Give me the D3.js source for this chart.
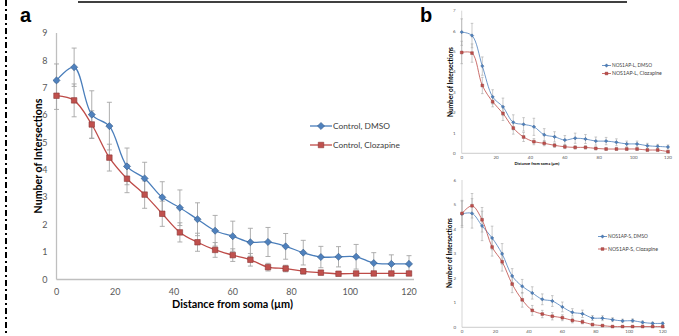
<!DOCTYPE html>
<html><head><meta charset="utf-8">
<script src="https://cdn.jsdelivr.net/npm/d3@7"></script>
<style>body{margin:0;background:#fff}svg{display:block}</style>
</head><body>
<svg id="c" width="679" height="336"></svg>
<script>
const distances = [0,6,12,18,24,30,36,42,48,54,60,66,72,78,84,90,96,102,108,114,120];
const xTicks = [0,20,40,60,80,100,120];

// Panel a
const seriesA = ["Control, DMSO","Control, Clozapine"];
const dmsoA = [7.27,7.75,6.02,5.6,4.13,3.69,3.0,2.62,2.2,1.78,1.58,1.36,1.37,1.21,0.98,0.82,0.83,0.83,0.6,0.57,0.57];
const dmsoAErr = [0.6,0.7,0.87,0.87,0.67,0.59,0.57,0.65,0.6,0.56,0.55,0.51,0.53,0.47,0.45,0.39,0.37,0.45,0.38,0.33,0.3];
const clozA = [6.71,6.54,5.66,4.45,3.68,3.1,2.4,1.72,1.36,1.08,0.89,0.72,0.45,0.4,0.3,0.25,0.21,0.22,0.22,0.22,0.22];
const clozAErr = [0.5,0.6,0.5,0.49,0.51,0.5,0.46,0.35,0.33,0.27,0.23,0.23,0.14,0.12,0.1,0.08,0.07,0.07,0.07,0.06,0.06];
const yTicksA = [0,1,2,3,4,5,6,7,8,9];

// Panel b top (NOS1AP-L)
const seriesL = ["NOS1AP-L, DMSO","NOS1AP-L, Clozapine"];
const dmsoL = [5.95,5.78,4.28,2.77,2.28,1.52,1.42,1.3,0.91,0.81,0.65,0.74,0.7,0.6,0.6,0.54,0.46,0.46,0.37,0.34,0.31];
const dmsoLErr = [0.65,0.6,0.45,0.35,0.43,0.37,0.33,0.42,0.3,0.25,0.22,0.25,0.22,0.2,0.18,0.17,0.14,0.14,0.12,0.1,0.1];
const clozL = [4.95,4.92,3.33,2.53,1.96,1.24,0.8,0.57,0.49,0.39,0.32,0.29,0.29,0.24,0.21,0.21,0.21,0.21,0.16,0.16,0.08];
const clozLErr = [0.55,0.45,0.4,0.25,0.35,0.3,0.22,0.15,0.12,0.1,0.09,0.08,0.08,0.07,0.06,0.06,0.06,0.06,0.05,0.05,0.04];
const yTicksL = [0,1,2,3,4,5,6,7];

// Panel b bottom (NOS1AP-S)
const seriesS = ["NOS1AP-S, DMSO","NOS1AP-S, Clozapine"];
const dmsoS = [4.62,4.64,4.13,3.64,2.99,2.09,1.67,1.4,1.14,1.07,0.83,0.61,0.55,0.38,0.37,0.31,0.26,0.27,0.2,0.16,0.16];
const dmsoSErr = [0.55,0.6,0.6,0.48,0.42,0.3,0.28,0.25,0.22,0.22,0.2,0.15,0.15,0.1,0.1,0.08,0.07,0.07,0.06,0.05,0.05];
const clozS = [4.64,4.95,4.38,3.27,2.67,1.76,1.12,0.69,0.54,0.45,0.39,0.28,0.22,0.11,0.07,0.03,0.03,0.03,0.03,0.03,0.03];
const clozSErr = [0.5,0.5,0.5,0.37,0.38,0.35,0.3,0.2,0.15,0.15,0.12,0.1,0.08,0.05,0.04,0.03,0.02,0.02,0.02,0.02,0.02];
const yTicksS = [0,1,2,3,4,5,6];

const BLUE = "#4F81BD", BLUE_L = "#4A7EBB", BLUE_B = "#385D8A", RED = "#C0504D", RED_L = "#BE4B48", RED_B = "#8C3836";
const ERR = "#A6A6A6", AX = "#BFBFBF", TXT = "#595959";
const FONT = "Lato, 'Open Sans', sans-serif";
const svg = d3.select("#c");

function fitText(sel, target) {
  const n = sel.node();
  const base = parseFloat(sel.attr("font-size"));
  const w = n.getComputedTextLength();
  if (w > 0) sel.attr("font-size", (base * target / w).toFixed(2));
  return sel;
}

function marker(sel, kind, side) {
  // diamond = square rotated 45 degrees (Excel style)
  const sym = d3.symbol().type(d3.symbolSquare).size(side * side);
  return sel.attr("d", sym).attr("data-rot", kind === "diamond" ? 45 : 0);
}

function panel(o) {
  const g = svg.append("g");
  const x = d3.scaleLinear().domain([0,120]).range(o.xr);
  const y = d3.scaleLinear().domain([0,o.ymax]).range(o.yr);
  g.append("line").attr("x1", x(0)).attr("x2", o.xEnd).attr("y1", y(0)).attr("y2", y(0)).attr("stroke", AX).attr("stroke-width", o.axW);
  g.append("line").attr("x1", x(0)).attr("x2", x(0)).attr("y1", y(0)).attr("y2", y(o.ymax)).attr("stroke", AX).attr("stroke-width", o.axW*0.8);
  g.selectAll(".yt").data(o.yTicks).join("text").attr("x", x(0) - o.tickPad).attr("y", d => y(d)).attr("dy", "0.35em")
    .attr("text-anchor", "end").attr("font-family", FONT).attr("font-size", o.tickSize).attr("fill", TXT).text(d => d);
  g.selectAll(".xt").data(xTicks).join("text").attr("x", d => x(d)).attr("y", y(0) + o.xTickDy)
    .attr("text-anchor", "middle").attr("font-family", FONT).attr("font-size", o.tickSize).attr("fill", TXT).text(d => d);
  const sets = [
    {v: o.d1, e: o.e1, c: BLUE, lc: BLUE_L, bc: BLUE_B, m: "diamond", s: o.sideD},
    {v: o.d2, e: o.e2, c: RED, lc: RED_L, bc: RED_B, m: "square", s: o.sideS}
  ];
  sets.forEach(s => {
    const pts = distances.map((d,i) => ({x: d, v: s.v[i], e: s.e[i]}));
    const eg = g.append("g").attr("stroke", ERR).attr("stroke-width", o.errW);
    eg.selectAll("line.v").data(pts).join("line").attr("x1", d => x(d.x)).attr("x2", d => x(d.x))
      .attr("y1", d => y(d.v - d.e)).attr("y2", d => y(d.v + d.e));
    [-1,1].forEach(sg => {
      eg.selectAll("line.c" + sg).data(pts).join("line").attr("x1", d => x(d.x) - o.cap).attr("x2", d => x(d.x) + o.cap)
        .attr("y1", d => y(d.v + sg*d.e)).attr("y2", d => y(d.v + sg*d.e));
    });
  });
  sets.forEach(s => {
    const line = d3.line().x((d,i) => x(distances[i])).y(d => y(d)).curve(d3.curveCatmullRom.alpha(0.5));
    g.append("path").attr("d", line(s.v)).attr("fill", "none").attr("stroke", s.lc).attr("stroke-width", o.lineW);
  });
  sets.forEach(s => {
    const rot = s.m === "diamond" ? 45 : 0;
    const sym = d3.symbol().type(d3.symbolSquare).size(s.s * s.s);
    g.selectAll(null).data(s.v).join("path").attr("transform", (d,i) => `translate(${x(distances[i])},${y(d)}) rotate(${rot})`)
      .attr("d", sym).attr("fill", s.c).attr("stroke", s.bc).attr("stroke-width", o.mkW);
  });
  o.names.forEach((nm, i) => {
    const ly = o.legY[i], lx = o.legX;
    const s = sets[i];
    const rot = s.m === "diamond" ? 45 : 0;
    g.append("line").attr("x1", lx).attr("x2", lx + o.legLen).attr("y1", ly).attr("y2", ly).attr("stroke", s.lc).attr("stroke-width", o.lineW);
    const sym = d3.symbol().type(d3.symbolSquare).size(s.s * s.s);
    g.append("path").attr("transform", `translate(${lx + o.legLen/2},${ly}) rotate(${rot})`).attr("d", sym).attr("fill", s.c).attr("stroke", s.bc).attr("stroke-width", o.mkW);
    const t = g.append("text").attr("x", lx + o.legLen + 1).attr("y", ly).attr("dy", "0.35em").attr("font-family", FONT)
      .attr("font-size", o.legSize).attr("fill", "#404040").text(nm);
    if (o.legW[i]) fitText(t, o.legW[i]);
  });
  if (o.xTitle) {
    const t = g.append("text").attr("x", o.xTitle.x).attr("y", o.xTitle.y).attr("text-anchor", "middle").attr("font-family", FONT)
      .attr("font-weight", "bold").attr("font-size", o.xTitle.size).attr("fill", "#000").text("Distance from soma (µm)");
    fitText(t, o.xTitle.w);
  }
  const yt = g.append("text").attr("transform", `translate(${o.yTitle.x},${o.yTitle.y}) rotate(-90)`).attr("text-anchor", "middle")
    .attr("font-family", FONT).attr("font-weight", "bold").attr("font-size", o.yTitle.size).attr("fill", "#000").text("Number of Intersections");
  fitText(yt, o.yTitle.w);
}

panel({
  xr: [56.5, 409], yr: [279.5, 33], ymax: 9, xEnd: 414, axW: 1.6, yTicks: yTicksA, tickPad: 9, tickSize: 9, xTickDy: 15,
  d1: dmsoA, e1: dmsoAErr, d2: clozA, e2: clozAErr, errW: 0.9, cap: 2.5, lineW: 1.3, sideD: 5, sideS: 5.5, mkW: 0.6,
  names: seriesA, legX: 310, legY: [126, 145], legLen: 22, legSize: 11, legW: [57, 67],
  xTitle: {x: 232.5, y: 308, size: 13, w: 121}, yTitle: {x: 42, y: 156, size: 13, w: 115}
});

panel({
  xr: [461.7, 668], yr: [153.3, 10.7], ymax: 7, xEnd: 670, axW: 0.8, yTicks: yTicksL, tickPad: 6, tickSize: 4.5, xTickDy: 6,
  d1: dmsoL, e1: dmsoLErr, d2: clozL, e2: clozLErr, errW: 0.6, cap: 1.3, lineW: 0.8, sideD: 2.4, sideS: 2.8, mkW: 0.4,
  names: seriesL, legX: 602, legY: [65.5, 73.5], legLen: 9, legSize: 5.5, legW: [40, 50],
  xTitle: {x: 537, y: 165, size: 6.5, w: 45}, yTitle: {x: 453, y: 82, size: 6.5, w: 70}
});

panel({
  xr: [462, 662.7], yr: [327.3, 180], ymax: 6, xEnd: 665, axW: 0.8, yTicks: yTicksS, tickPad: 6, tickSize: 4.5, xTickDy: 6,
  d1: dmsoS, e1: dmsoSErr, d2: clozS, e2: clozSErr, errW: 0.6, cap: 1.3, lineW: 0.8, sideD: 2.4, sideS: 2.8, mkW: 0.4,
  names: seriesS, legX: 598, legY: [236.5, 249], legLen: 9, legSize: 5.5, legW: [40, 50],
  xTitle: null, yTitle: {x: 452, y: 253, size: 6.5, w: 70}
});

svg.append("text").attr("x", 20).attr("y", 22).attr("font-family", "'Liberation Sans', Arial, sans-serif").attr("font-weight", "bold").attr("font-size", 20).text("a");
svg.append("text").attr("x", 420).attr("y", 22).attr("font-family", "'Liberation Sans', Arial, sans-serif").attr("font-weight", "bold").attr("font-size", 20).text("b");
svg.append("line").attr("x1", 78).attr("x2", 627).attr("y1", 2).attr("y2", 2).attr("stroke", "#000").attr("stroke-width", 1.5);
svg.append("line").attr("x1", 6).attr("x2", 6).attr("y1", 0).attr("y2", 336).attr("stroke", "#000").attr("stroke-width", 2).attr("stroke-dasharray", "6,3,2,3");
</script>
</body></html>
